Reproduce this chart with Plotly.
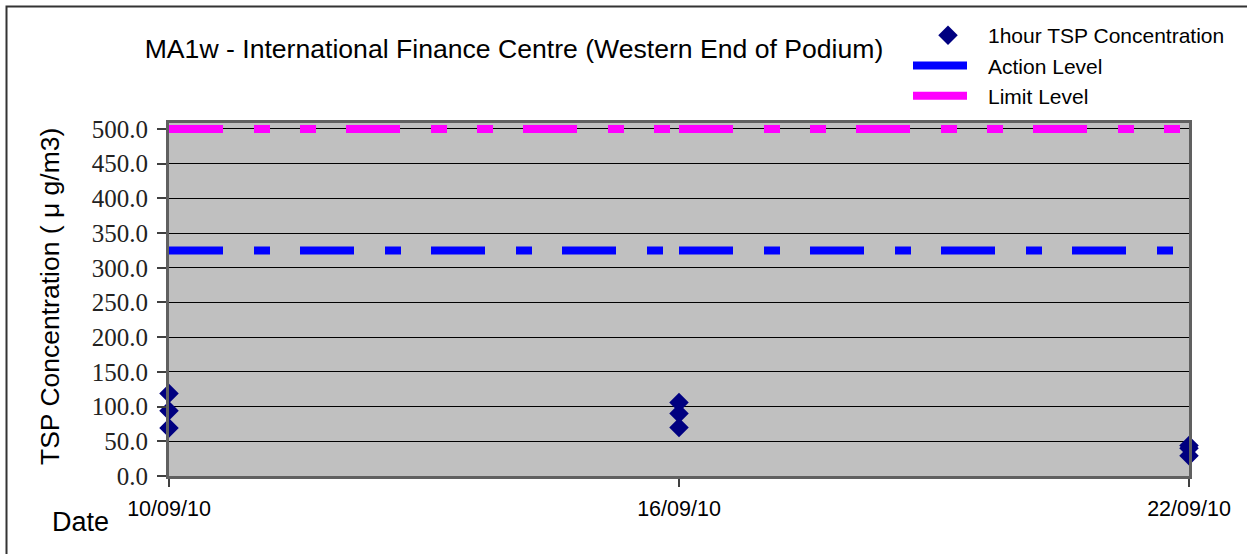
import plotly.graph_objects as go

# ---- data ----
dates = ["2010-09-10", "2010-09-16", "2010-09-22"]
tsp_dates = ["2010-09-10", "2010-09-10", "2010-09-10",
             "2010-09-16", "2010-09-16", "2010-09-16",
             "2010-09-22", "2010-09-22", "2010-09-22"]
tsp_values = [119, 94, 69, 106, 90, 70, 44, 40, 29]
action_level = [325, 325, 325]
limit_level = [500, 500, 500]
y_ticks = [0, 50, 100, 150, 200, 250, 300, 350, 400, 450, 500]
x_ticks = ["2010-09-10", "2010-09-16", "2010-09-22"]
x_tick_text = ["10/09/10", "16/09/10", "22/09/10"]

W, H = 1247, 554
L, R, T, B = 169, 58, 123, 78
pw, ph = W - L - R, H - T - B

def px_x(p):
    return (p - L) / pw

def px_y(p):
    return (H - B - p) / ph

fig = go.Figure()

for name, vals, color, dash, grp, rank in [
    ("Action Level", action_level, "#0000FF", "54px,31px,16px,30px", "b", 2),
    ("Limit Level", limit_level, "#FF00FF", "54px,31px,16px,30px,16px,30px", "c", 3),
]:
    for i in range(len(dates) - 1):
        fig.add_trace(go.Scatter(
            x=dates[i:i + 2], y=vals[i:i + 2], mode="lines", name=name,
            line=dict(color=color, width=8, dash=dash),
            legendgroup=grp, showlegend=(i == 0), legendrank=rank,
        ))

fig.add_trace(go.Scatter(
    x=tsp_dates, y=tsp_values, mode="markers", name="1hour TSP Concentration",
    marker=dict(symbol="diamond", size=15, color="#000080"),
    legendgroup="a", legendrank=1, cliponaxis=False,
))

fig.update_layout(
    width=W, height=H,
    margin=dict(l=L, r=R, t=T, b=B),
    paper_bgcolor="white", plot_bgcolor="#C0C0C0",
    font=dict(family="Liberation Sans, Arial", color="black"),
    title=dict(text="MA1w - International Finance Centre (Western End of Podium)",
               font=dict(size=26.6, family="Liberation Sans, Arial"),
               x=px_x(514), xref="paper", xanchor="center",
               y=1 - 49 / H, yref="container", yanchor="middle"),
    legend=dict(x=px_x(908), y=px_y(15), xanchor="left", yanchor="top",
                xref="paper", yref="paper",
                bgcolor="rgba(0,0,0,0)", font=dict(size=21),
                tracegroupgap=3, itemwidth=70, traceorder="normal"),
    showlegend=True,
)

fig.update_xaxes(
    type="date", range=[dates[0], dates[-1]],
    tickvals=x_ticks, ticktext=x_tick_text,
    tickfont=dict(size=21.5, family="Liberation Sans, Arial"),
    ticks="outside", ticklen=8, tickcolor="#404040", tickwidth=2,
    showgrid=False, zeroline=False,
    showline=True, linecolor="#606060", linewidth=3, mirror=True,
    ticklabelstandoff=3,
)
fig.update_yaxes(
    range=[0, 508.6], tickvals=y_ticks, ticktext=[f"{v:.1f}" for v in y_ticks],
    tickfont=dict(size=25, family="Liberation Serif, Times New Roman", color="#222222"),
    ticks="outside", ticklen=9, tickcolor="#404040", tickwidth=2,
    showgrid=True, gridcolor="black", gridwidth=1,
    zeroline=False,
    showline=True, linecolor="#606060", linewidth=3, mirror=True,
    ticklabelstandoff=4,
)

fig.add_annotation(
    text="TSP Concentration ( μ g/m3)", textangle=-90,
    x=px_x(50), y=px_y(297), xref="paper", yref="paper",
    xanchor="center", yanchor="middle", showarrow=False,
    font=dict(size=26.5, family="Liberation Sans, Arial"),
)
fig.add_annotation(
    text="Date", x=px_x(80), y=px_y(522), xref="paper", yref="paper",
    xanchor="center", yanchor="middle", showarrow=False,
    font=dict(size=27, family="Liberation Sans, Arial"),
)

fig.add_shape(type="rect", xref="paper", yref="paper",
              x0=px_x(6.5), x1=px_x(1260), y0=px_y(570), y1=px_y(6.5),
              line=dict(color="#333333", width=2), fillcolor="rgba(0,0,0,0)",
              layer="below")

fig.write_html("out.html", config={"displayModeBar": False},
               post_script="document.body.style.margin='0px';")
